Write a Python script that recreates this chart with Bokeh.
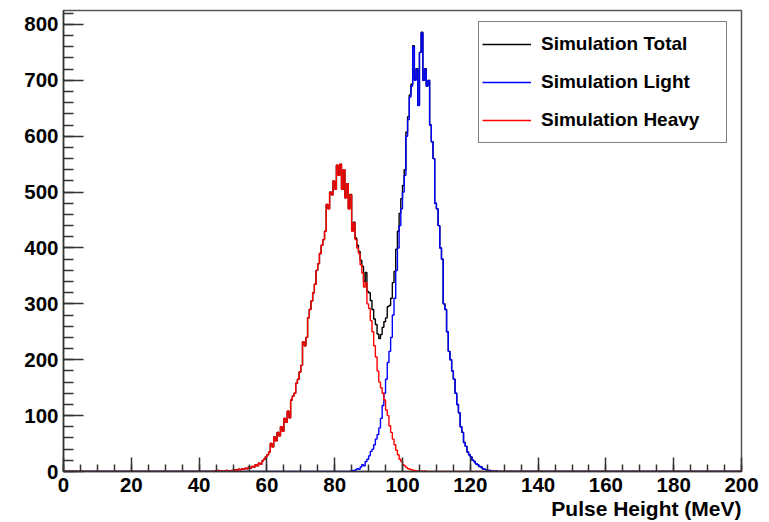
import numpy as np
from bokeh.plotting import figure
from bokeh.models import Range1d, SingleIntervalTicker, Legend, LegendItem, Title
from bokeh.embed import file_html
from bokeh.resources import INLINE

# ---- data (histograms, 0.5 MeV bins) ----
bin_width = 0.5
x_min, x_max = 0.0, 200.0

heavy_start = 44.0
heavy_counts = [
    0, 1, 0, 2, 0, 1, 0, 1, 2, 0,
    1, 2, 1, 3, 2, 4, 3, 5, 4, 6,
    5, 8, 6, 9, 8, 12, 10, 15, 13, 19,
    22, 26, 30, 35, 50, 44, 62, 55, 70, 64,
    80, 72, 95, 88, 108, 96, 128, 135, 140, 158,
    165, 178, 190, 232, 225, 240, 275, 290, 305, 320,
    335, 360, 372, 390, 405, 415, 430, 478, 470, 500,
    495, 520, 505, 548, 530, 550, 505, 540, 490, 515,
    470, 495, 430, 445, 415, 400, 390, 370, 355, 330,
    338, 300, 292, 270, 250, 225, 205, 180, 160, 150,
    140, 128, 110, 100, 82, 70, 58, 48, 38, 30,
    22, 18, 12, 10, 7, 5, 4, 3, 2, 2,
    1, 1, 0, 1, 0, 1, 0,
]

light_start = 84.0
light_counts = [
    0, 1, 2, 1, 3, 5, 4, 8, 12, 10,
    18, 22, 28, 36, 40, 48, 58, 66, 78, 95,
    118, 140, 165, 195, 215, 240, 280, 310, 360, 400,
    440, 470, 500, 530, 600, 630, 670, 690, 760, 700,
    720, 655, 750, 785, 700, 720, 690, 700, 620, 590,
    560, 480, 470, 440, 400, 380, 300, 290, 250, 215,
    200, 180, 165, 140, 120, 105, 80, 70, 52, 45,
    35, 30, 26, 20, 18, 14, 12, 9, 8, 5,
    4, 3, 2, 2, 1, 1, 0, 1,
]

series_names = ["Simulation Total", "Simulation Light", "Simulation Heavy"]
series_colors = ["#000000", "#0000ff", "#ff0000"]
x_label = "Pulse Height (MeV)"

# ---- build histograms ----
edges = np.arange(x_min, x_max + bin_width / 2, bin_width)
nbins = len(edges) - 1


def fill(start, counts):
    h = np.zeros(nbins)
    i0 = int(round((start - x_min) / bin_width))
    h[i0:i0 + len(counts)] = counts
    return h


heavy = fill(heavy_start, heavy_counts)
light = fill(light_start, light_counts)
total = heavy + light


def outline(h):
    xs = np.repeat(edges, 2)[1:-1]
    ys = np.repeat(h, 2)
    return xs, ys


FONT = "Liberation Sans"
AXC = "#333333"

p = figure(width=769, height=522,
           x_range=Range1d(0, 200), y_range=Range1d(0, 825),
           output_backend="svg", toolbar_location=None,
           min_border_left=63, min_border_right=28,
           min_border_top=10, min_border_bottom=51)
p.background_fill_color = "white"
p.border_fill_color = "white"
p.xgrid.visible = False
p.ygrid.visible = False
p.outline_line_color = "#555555"
p.outline_line_width = 1.5

renderers = []
for h, c in zip([total, light, heavy], series_colors):
    xs, ys = outline(h)
    r = p.line(xs, ys, line_color=c, line_width=1.4)
    renderers.append(r)

# axes
p.xaxis.ticker = SingleIntervalTicker(interval=20, num_minor_ticks=4)
p.yaxis.ticker = SingleIntervalTicker(interval=100, num_minor_ticks=5)
for ax in (p.xaxis, p.yaxis):
    ax.axis_line_color = AXC
    ax.axis_line_width = 1.5
    ax.major_tick_line_color = AXC
    ax.minor_tick_line_color = AXC
    ax.major_tick_line_width = 1.5
    ax.minor_tick_line_width = 1.5
    ax.major_tick_out = 0
    ax.minor_tick_out = 0
    ax.major_label_text_font = FONT
    ax.major_label_text_font_style = "bold"
    ax.major_label_text_font_size = "20.5px"
    ax.major_label_text_color = "black"

p.xaxis.major_tick_in = 14
p.xaxis.minor_tick_in = 7
p.yaxis.major_tick_in = 20
p.yaxis.minor_tick_in = 10
p.xaxis.major_label_standoff = 6
p.yaxis.major_label_standoff = 5

# x-axis title, right-aligned at the end of the axis (ROOT style)
xtitle = Title(text=x_label, align="right", standoff=0, offset=0,
               text_font=FONT, text_font_style="bold",
               text_font_size="21px", text_color="black")
p.add_layout(xtitle, "below")

legend = Legend(
    items=[LegendItem(label=n, renderers=[r]) for n, r in zip(series_names, renderers)],
    location=(415, 328),
    padding=3, spacing=0, margin=0,
    glyph_width=49, glyph_height=20,
    label_standoff=10, label_width=182, label_height=38,
    label_text_font=FONT, label_text_font_style="bold",
    label_text_font_size="19px", label_text_color="black",
    border_line_color="black", border_line_width=1.5,
    background_fill_color="white", background_fill_alpha=1.0,
)
p.add_layout(legend, "center")

open("out.html", "w").write(file_html(p, INLINE))
